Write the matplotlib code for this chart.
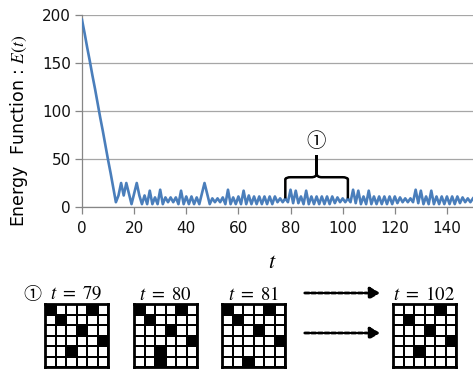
import matplotlib
matplotlib.use("Agg")
import matplotlib.pyplot as plt
import numpy as np
from matplotlib.path import Path
from matplotlib.patches import PathPatch

plt.rcParams['font.family'] = ['DejaVu Sans']
plt.rcParams['mathtext.fontset'] = 'stix'

# energy E(t) for t = 0..150
energy = [195, 181, 166, 152, 137, 123, 108, 93, 79, 64, 49, 35, 20, 5,
          12, 25, 12, 25, 14, 3, 14, 25, 12, 3, 12, 3, 17, 3, 10, 3,
          18, 3, 10, 5, 10, 5, 10, 3, 17, 3, 11, 3, 11, 3, 10, 3,
          14, 25, 14, 3, 9, 5, 9, 5, 10, 3, 18, 3, 10, 3, 11, 3,
          17, 3, 12, 3, 11, 3, 11, 3, 11, 3, 11, 3, 11, 5, 9, 5,
          9, 5, 18, 4, 17, 4, 11, 3, 17, 3, 11, 3, 11, 3, 11, 3,
          11, 3, 11, 4, 10, 5, 9, 5, 9, 5, 18, 4, 17, 3, 11, 3,
          17, 3, 11, 3, 11, 3, 11, 3, 11, 3, 11, 4, 10, 5, 9, 5,
          9, 5, 18, 4, 17, 3, 11, 3, 17, 3, 11, 3, 11, 3, 11, 3,
          11, 3, 11, 4, 10, 5, 9, 5, 9]
t = np.arange(len(energy))

yticks = [0, 50, 100, 150, 200]
xticks = [0, 20, 40, 60, 80, 100, 120, 140]

# highlighted interval (1)
brace_start, brace_end = 78, 102
brace_low, brace_mid, brace_tip = 9, 31, 54

# 6x6 neuron states shown below the chart
grid_labels = ['79', '80', '81', '102']
grids = [
    [[1, 0, 0, 0, 1, 0],
     [0, 1, 0, 0, 0, 0],
     [0, 0, 0, 1, 0, 0],
     [0, 0, 0, 0, 0, 1],
     [0, 0, 1, 0, 0, 0],
     [0, 0, 0, 0, 0, 0]],
    [[1, 0, 0, 0, 1, 0],
     [0, 1, 0, 0, 0, 0],
     [0, 0, 0, 1, 0, 0],
     [0, 0, 0, 0, 0, 1],
     [0, 0, 1, 0, 0, 0],
     [0, 0, 1, 0, 0, 0]],
    [[1, 0, 0, 0, 1, 0],
     [0, 1, 0, 0, 0, 0],
     [0, 0, 0, 1, 0, 0],
     [0, 0, 0, 0, 0, 1],
     [0, 0, 0, 0, 0, 0],
     [0, 0, 1, 0, 0, 0]],
    [[0, 0, 0, 0, 1, 0],
     [0, 1, 0, 0, 0, 0],
     [0, 0, 0, 1, 0, 0],
     [0, 0, 0, 0, 0, 1],
     [0, 0, 1, 0, 0, 0],
     [0, 0, 0, 0, 0, 0]],
]

W, H = 473, 369
fig = plt.figure(figsize=(W / 100, H / 100), dpi=100)

# main chart
ax = fig.add_axes([82 / W, (H - 207) / H, 391 / W, 192 / H])
ax.plot(t, energy, color='#4A7EBB', lw=1.9, zorder=3)
ax.set_xlim(0, 150)
ax.set_ylim(0, 200)
ax.set_yticks(yticks)
ax.set_xticks(xticks)
ax.grid(axis='y', color='#A6A6A6', lw=0.9)
ax.set_axisbelow(True)
for s in ['top', 'right']:
    ax.spines[s].set_visible(False)
for s in ['left', 'bottom']:
    ax.spines[s].set_color('#868686')
    ax.spines[s].set_linewidth(0.9)
ax.tick_params(axis='both', labelsize=11, colors='#868686', labelcolor='#111111',
               length=5, width=0.9, direction='out')
ax.tick_params(axis='x', pad=5)
ax.tick_params(axis='y', pad=3)

# brace over the interval
xm = (brace_start + brace_end) / 2
verts = [(brace_start, brace_low), (brace_start, brace_mid - 2), (brace_start + 0.3, brace_mid),
         (brace_start + 2, brace_mid), (xm - 2, brace_mid), (xm, brace_mid), (xm, brace_mid + 4),
         (xm, brace_tip), (xm, brace_mid + 4), (xm, brace_mid), (xm + 2, brace_mid),
         (brace_end - 2, brace_mid), (brace_end - 0.3, brace_mid), (brace_end, brace_mid - 2),
         (brace_end, brace_low)]
codes = [Path.MOVETO, Path.LINETO, Path.CURVE3, Path.CURVE3, Path.LINETO, Path.CURVE3, Path.CURVE3,
         Path.LINETO, Path.LINETO, Path.CURVE3, Path.CURVE3, Path.LINETO, Path.CURVE3, Path.CURVE3,
         Path.LINETO]
ax.add_patch(PathPatch(Path(verts, codes), fill=False, lw=1.8, color='black', zorder=4))
ax.text(xm, brace_tip + 3, '\u2460', ha='center', va='bottom', fontsize=14,
        family=['Noto Sans CJK JP', 'DejaVu Sans'])

fig.text(19 / W, 1 - 131 / H, 'Energy  Function : $E(t)$', rotation=90,
         ha='center', va='center', fontsize=12.5)
fig.text(272 / W, 1 - 262 / H, '$t$', ha='center', va='center', fontsize=16)

# grids
grid_x = [45, 134, 222, 393]
gsize = 63
for x0, g, lab in zip(grid_x, grids, grid_labels):
    gax = fig.add_axes([x0 / W, (H - 367) / H, gsize / W, gsize / H])
    gax.pcolormesh(np.array(g)[::-1], cmap='binary', vmin=0, vmax=1,
                   edgecolors='black', linewidth=1.3)
    gax.set_xticks([])
    gax.set_yticks([])
    for s in gax.spines.values():
        s.set_linewidth(2.0)
    fig.text((x0 + gsize / 2) / W, 1 - 294 / H, '$t\\ =\\ ' + lab + '$',
             ha='center', va='center', fontsize=13.5)

fig.text(32 / W, 1 - 295 / H, '\u2460', ha='center', va='center', fontsize=13,
         family=['Noto Sans CJK JP', 'DejaVu Sans'])

for yy in [293, 333]:
    fig.add_artist(matplotlib.patches.FancyArrowPatch(
        (302 / W, 1 - yy / H), (383 / W, 1 - yy / H), transform=fig.transFigure,
        arrowstyle='-|>,head_length=6,head_width=3.5', mutation_scale=1,
        lw=2.0, ls=(0, (1.6, 0.8)), color='black'))

fig.savefig('out.png', dpi=100)
